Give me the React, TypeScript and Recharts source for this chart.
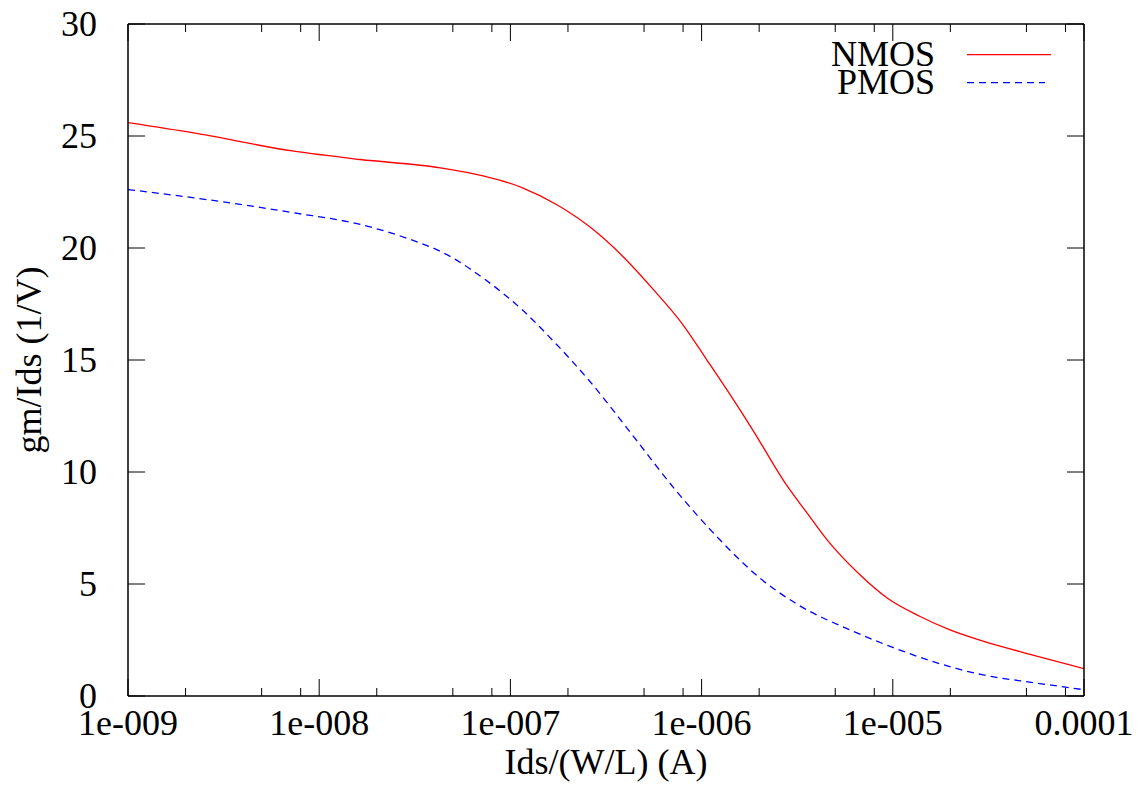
import React from 'react';
import { LineChart, Line, XAxis, YAxis, Legend } from 'recharts';

// ---- data ----
const nmosX = [1e-9, 2.21e-9, 7.38e-9, 1.64e-8, 4.3e-8, 7.2e-8, 1.14e-7, 1.76e-7, 2.64e-7, 3.9e-7, 5.6e-7, 7.87e-7, 1.064e-6, 1.41e-6, 1.86e-6, 2.79e-6, 3.54e-6, 4.5e-6, 6.73e-6, 9.42e-6, 1.39e-5, 1.99e-5, 2.96e-5, 5.4e-5, 1e-4];
const nmosY = [25.6, 25.14, 24.32, 23.95, 23.58, 23.22, 22.71, 21.92, 20.9, 19.6, 18.14, 16.65, 15.01, 13.45, 11.85, 9.4, 8.2, 7.0, 5.41, 4.35, 3.55, 2.95, 2.45, 1.83, 1.22];

const pmosX = [1e-9, 2.21e-9, 7.38e-9, 1.64e-8, 3.0e-8, 4.47e-8, 7.38e-8, 1.15e-7, 1.75e-7, 2.56e-7, 4.4e-7, 7.41e-7, 1.2e-6, 2.02e-6, 3.2e-6, 5.97e-6, 1e-5, 1.63e-5, 2.97e-5, 5.42e-5, 1e-4];
const pmosY = [22.61, 22.24, 21.57, 21.05, 20.38, 19.78, 18.59, 17.25, 15.68, 14.12, 11.59, 9.13, 7.12, 5.26, 4.07, 2.95, 2.17, 1.53, 0.94, 0.6, 0.28];

const seriesNames = ['NMOS', 'PMOS'];
const seriesColors = ['#ff0000', '#0000ff'];

const xMajorTicks = [1e-9, 1e-8, 1e-7, 1e-6, 1e-5, 1e-4];
const xTickLabels = ['1e-009', '1e-008', '1e-007', '1e-006', '1e-005', '0.0001'];
const xMinorFactors = [2, 5, 8];
const yTicks = [0, 5, 10, 15, 20, 25, 30];

const xTitle = 'Ids/(W/L) (A)';
const yTitle = 'gm/Ids (1/V)';

// ---- derived ----
const nmosData = nmosX.map((x, i) => ({ x, y: nmosY[i] }));
const pmosData = pmosX.map((x, i) => ({ x, y: pmosY[i] }));
const allXTicks = [
  ...xMajorTicks,
  ...xMajorTicks.slice(0, -1).flatMap((d) => xMinorFactors.map((f) => d * f)),
].sort((a, b) => a - b);

const FONT = "'Liberation Serif', 'Times New Roman', serif";
const FS = 36;
const MAJOR = 17;
const MINOR = 8;

const majorIndex = (v: number) => {
  const l = Math.log10(v);
  if (Math.abs(l - Math.round(l)) > 1e-6) return -1;
  return xMajorTicks.findIndex((m) => Math.abs(Math.log10(m) - l) < 1e-6);
};

const BottomTick = (props: any) => {
  const { x, y, payload } = props;
  const idx = majorIndex(payload.value);
  const len = idx >= 0 ? MAJOR : MINOR;
  return (
    <g>
      <line x1={x} y1={y} x2={x} y2={y - len} stroke="#000" strokeWidth={1} />
      {idx >= 0 && (
        <text x={x} y={y + 39} textAnchor="middle" fontFamily={FONT} fontSize={FS} fill="#000">
          {xTickLabels[idx]}
        </text>
      )}
    </g>
  );
};

const TopTick = (props: any) => {
  const { x, y, payload } = props;
  const idx = majorIndex(payload.value);
  const len = idx >= 0 ? MAJOR : MINOR;
  return <line x1={x} y1={y} x2={x} y2={y + len} stroke="#000" strokeWidth={1} />;
};

const LeftTick = (props: any) => {
  const { x, y, payload } = props;
  return (
    <g>
      <line x1={x} y1={y} x2={x + MAJOR} y2={y} stroke="#000" strokeWidth={1} />
      <text x={x - 31} y={y + 12} textAnchor="end" fontFamily={FONT} fontSize={FS} fill="#000">
        {payload.value}
      </text>
    </g>
  );
};

const RightTick = (props: any) => {
  const { x, y } = props;
  return <line x1={x} y1={y} x2={x - MAJOR} y2={y} stroke="#000" strokeWidth={1} />;
};

const renderLegend = (props: any) => {
  const payload = props.payload || [];
  const rows = [
    { base: 46, ly: 34.7, x2: 251 },
    { base: 74, ly: 62.7, x2: 245 },
  ];
  return (
    <svg width={300} height={90} style={{ display: 'block' }}>
      {payload.map((p: any, i: number) => {
        const r = rows[i] || rows[0];
        const dash = p.payload && p.payload.strokeDasharray;
        return (
          <g key={i}>
            <text x={135} y={r.base} textAnchor="end" fontFamily={FONT} fontSize={FS} fill="#000">
              {p.value}
            </text>
            <line x1={167} y1={r.ly} x2={r.x2} y2={r.ly} stroke={p.color} strokeWidth={1.3} strokeDasharray={dash} />
          </g>
        );
      })}
    </svg>
  );
};

const axisLine = { stroke: '#000', strokeWidth: 1.5 };

export default function App() {
  return (
    <div style={{ position: 'absolute', left: 0, top: 0, background: '#fff' }}>
      <LineChart width={1138} height={785} margin={{ top: 23, right: 53, left: 0, bottom: 29 }}>
        <XAxis
          xAxisId="b"
          dataKey="x"
          type="number"
          scale="log"
          domain={[1e-9, 1e-4]}
          allowDataOverflow
          ticks={allXTicks}
          interval={0}
          tickSize={0}
          tickMargin={0}
          tickLine={false}
          axisLine={axisLine}
          height={60}
          tick={BottomTick}
          label={() => (
            <text x={606} y={774} textAnchor="middle" fontFamily={FONT} fontSize={FS} fill="#000">
              {xTitle}
            </text>
          )}
        />
        <XAxis
          xAxisId="t"
          orientation="top"
          dataKey="x"
          type="number"
          scale="log"
          domain={[1e-9, 1e-4]}
          allowDataOverflow
          ticks={allXTicks}
          interval={0}
          tickSize={0}
          tickMargin={0}
          tickLine={false}
          axisLine={axisLine}
          height={1}
          tick={TopTick}
        />
        <YAxis
          yAxisId="l"
          type="number"
          domain={[0, 30]}
          allowDataOverflow
          ticks={yTicks}
          interval={0}
          tickSize={0}
          tickMargin={0}
          tickLine={false}
          axisLine={axisLine}
          width={128}
          tick={LeftTick}
          label={() => (
            <text
              x={41}
              y={360}
              transform="rotate(-90 41 360)"
              textAnchor="middle"
              fontFamily={FONT}
              fontSize={FS}
              fill="#000"
            >
              {yTitle}
            </text>
          )}
        />
        <YAxis
          yAxisId="r"
          orientation="right"
          type="number"
          domain={[0, 30]}
          allowDataOverflow
          ticks={yTicks}
          interval={0}
          tickSize={0}
          tickMargin={0}
          tickLine={false}
          axisLine={axisLine}
          width={1}
          tick={RightTick}
        />
        <Legend
          layout="horizontal"
          verticalAlign="middle"
          align="center"
          content={renderLegend}
          wrapperStyle={{ position: 'absolute', left: 800, top: 20, width: 300, height: 90, margin: 0, padding: 0 }}
        />
        <Line
          xAxisId="b"
          yAxisId="l"
          data={nmosData}
          dataKey="y"
          name={seriesNames[0]}
          type="monotoneX"
          stroke={seriesColors[0]}
          strokeWidth={1.3}
          dot={false}
          activeDot={false}
          isAnimationActive={false}
        />
        <Line
          xAxisId="b"
          yAxisId="l"
          data={pmosData}
          dataKey="y"
          name={seriesNames[1]}
          type="monotoneX"
          stroke={seriesColors[1]}
          strokeWidth={1.3}
          strokeDasharray="7 5"
          dot={false}
          activeDot={false}
          isAnimationActive={false}
        />
      </LineChart>
    </div>
  );
}
